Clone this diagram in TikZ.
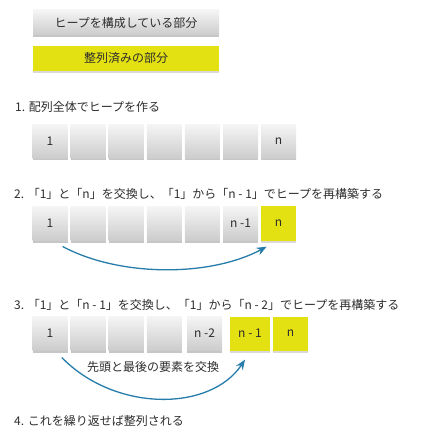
\documentclass[tikz,border=0pt]{standalone}
\usepackage{fontspec}
\setmainfont{Noto Sans CJK JP}
\usepackage{tikz}
\usetikzlibrary{arrows.meta,shadows}
\usepackage{xcolor}
\definecolor{sortyellow}{RGB}{228,225,18}
\definecolor{swapblue}{RGB}{38,124,170}
\definecolor{textgray}{RGB}{45,45,45}

\begin{document}
\begin{tikzpicture}[x=1pt,y=-1pt,>={Stealth[length=10pt,width=8pt]},line cap=round,
  font=\fontsize{12}{14}\selectfont,text=textgray,
  cell/.style={minimum width=35pt,minimum height=34pt,inner sep=0pt,top color=gray!8,bottom color=gray!40,drop shadow={shadow xshift=0pt,shadow yshift=-2pt,opacity=0.45}},
  sorted/.style={minimum width=35pt,minimum height=34pt,inner sep=0pt,fill=sortyellow,drop shadow={shadow xshift=0pt,shadow yshift=-2pt,opacity=0.3}},
  step text/.style={anchor=west,inner sep=0pt},
  swap/.style={->,swapblue,line width=1.3pt}]
\useasboundingbox (0,0) rectangle (425,443);
% legend
\node[cell,minimum width=186pt,minimum height=25pt] (keyheap) at (126,22.5) {ヒープを構成している部分};
\node[sorted,minimum width=186pt,minimum height=25pt] (keysorted) at (126,58.5) {整列済みの部分};
% 1
\node[step text] (txt1) at (15,107) {1. 配列全体でヒープを作る};
\node[cell] (a1) at (50,141.5) {1};
\node[cell] (a2) at (88.1,141.5) {};
\node[cell] (a3) at (126.2,141.5) {};
\node[cell] (a4) at (164.3,141.5) {};
\node[cell] (a5) at (202.4,141.5) {};
\node[cell] (a6) at (240.5,141.5) {};
\node[cell] (a7) at (278.6,141.5) {n};
% 2
\node[step text] (txt2) at (14,194) {2. 「1」と「n」を交換し、「1」から「n - 1」でヒープを再構築する};
\node[cell] (b1) at (50,223.5) {1};
\node[cell] (b2) at (88.1,223.5) {};
\node[cell] (b3) at (126.2,223.5) {};
\node[cell] (b4) at (164.3,223.5) {};
\node[cell] (b5) at (202.4,223.5) {};
\node[cell] (b6) at (240.5,223.5) {n -1};
\node[sorted] (b7) at (278.6,223.5) {n};
\draw[swap] ([xshift=13pt,yshift=-6pt]b1.south) .. controls (120,277) and (210,277) .. ([xshift=-12pt,yshift=-6pt]b7.south);
% 3
\node[step text] (txt3) at (14,305) {3. 「1」と「n - 1」を交換し、「1」から「n - 2」でヒープを再構築する};
\node[cell] (c1) at (50,333.5) {1};
\node[cell] (c2) at (88.1,333.5) {};
\node[cell] (c3) at (126.2,333.5) {};
\node[cell] (c4) at (164.3,333.5) {};
\node[cell] (c5) at (204.5,333.5) {n -2};
\node[sorted,minimum width=40pt] (c6) at (250,333.5) {n - 1};
\node[sorted] (c7) at (290.5,333.5) {n};
\draw[swap] ([xshift=12pt,yshift=-7pt]c1.south) .. controls (115,412) and (210,412) .. ([xshift=-5pt,yshift=-9pt]c6.south);
\node (swaplabel) at (153,367) {先頭と最後の要素を交換};
% 4
\node[step text] (txt4) at (14,421) {4. これを繰り返せば整列される};
\end{tikzpicture}
\end{document}
